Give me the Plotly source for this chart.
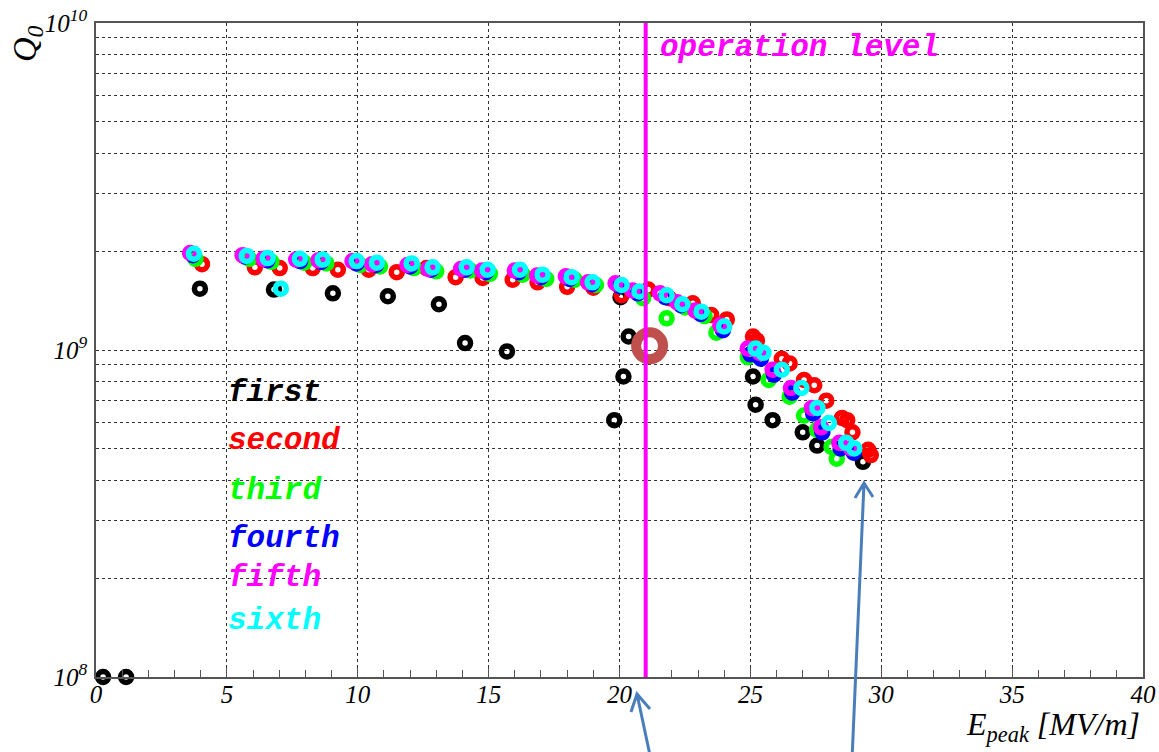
import plotly.graph_objects as go

# ---------------- data ----------------
first_x = [0.27, 1.15, 3.97, 6.8, 9.05, 11.15, 13.1, 14.1, 15.7, 19.8, 20.15, 20.35, 20.04, 25.1, 25.2, 25.85, 27.0, 27.55, 29.3]
first_q = [1.0e8, 1.0e8, 1.54e9, 1.53e9, 1.49e9, 1.46e9, 1.38e9, 1.05e9, 0.99e9, 6.1e8, 8.3e8, 1.10e9, 1.45e9, 8.3e8, 6.8e8, 6.1e8, 5.6e8, 5.1e8, 4.55e8]

second_x = [4.05, 6.07, 7.02, 8.28, 9.24, 10.42, 11.49, 12.63, 13.74, 14.77, 15.92, 16.87, 18.0, 19.0, 20.08, 21.1, 21.9, 22.8, 23.5, 24.1, 25.1, 25.25, 26.2, 26.5, 27.05, 27.44, 27.9, 28.5, 28.7, 28.9, 29.5, 29.6]
second_q = [1.83e9, 1.79e9, 1.78e9, 1.78e9, 1.76e9, 1.76e9, 1.73e9, 1.78e9, 1.67e9, 1.66e9, 1.64e9, 1.61e9, 1.56e9, 1.55e9, 1.47e9, 1.53e9, 1.44e9, 1.39e9, 1.28e9, 1.24e9, 1.10e9, 1.07e9, 9.4e8, 9.1e8, 8.1e8, 7.8e8, 7.0e8, 6.2e8, 6.1e8, 5.6e8, 4.95e8, 4.77e8]

third_x = [3.8, 5.85, 6.7, 7.95, 8.8, 10.1, 10.85, 12.15, 13.0, 14.3, 15.05, 16.3, 17.2, 18.3, 19.1, 20.9, 21.8, 22.5, 23.25, 23.7, 24.9, 25.7, 26.5, 27.05, 27.55, 28.1, 28.3]
third_q = [1.90e9, 1.90e9, 1.86e9, 1.85e9, 1.84e9, 1.82e9, 1.80e9, 1.78e9, 1.74e9, 1.75e9, 1.71e9, 1.70e9, 1.65e9, 1.64e9, 1.58e9, 1.44e9, 1.25e9, 1.35e9, 1.27e9, 1.13e9, 9.5e8, 8.1e8, 7.2e8, 6.3e8, 5.7e8, 5.05e8, 4.65e8]

fourth_x = [3.7, 5.7, 6.55, 7.8, 8.6, 9.95, 10.7, 12.0, 12.8, 14.1, 14.9, 16.15, 17.0, 18.1, 18.95, 20.0, 20.7, 21.75, 22.35, 23.1, 23.95, 25.0, 25.4, 25.9, 26.6, 27.4, 27.75, 28.45, 28.95]
fourth_q = [1.95e9, 1.93e9, 1.88e9, 1.87e9, 1.86e9, 1.84e9, 1.82e9, 1.80e9, 1.76e9, 1.76e9, 1.73e9, 1.73e9, 1.67e9, 1.65e9, 1.59e9, 1.57e9, 1.49e9, 1.45e9, 1.37e9, 1.29e9, 1.15e9, 9.7e8, 9.4e8, 8.4e8, 7.4e8, 6.4e8, 5.6e8, 5.0e8, 4.85e8]

fifth_x = [3.6, 5.6, 6.4, 7.65, 8.5, 9.8, 10.55, 11.9, 12.7, 13.95, 14.75, 16.0, 16.85, 17.95, 18.8, 19.85, 20.5, 21.55, 22.2, 22.9, 23.85, 24.9, 25.35, 25.85, 26.55, 27.35, 27.7, 28.4, 28.85]
fifth_q = [1.98e9, 1.95e9, 1.90e9, 1.89e9, 1.88e9, 1.87e9, 1.83e9, 1.82e9, 1.77e9, 1.77e9, 1.75e9, 1.75e9, 1.69e9, 1.68e9, 1.61e9, 1.60e9, 1.52e9, 1.49e9, 1.40e9, 1.32e9, 1.19e9, 1.01e9, 9.8e8, 8.7e8, 7.65e8, 6.65e8, 5.8e8, 5.2e8, 5.0e8]

sixth_x = [3.74, 5.76, 6.56, 7.06, 7.79, 8.66, 9.96, 10.73, 12.06, 12.86, 14.16, 14.96, 16.2, 17.06, 18.17, 18.97, 20.08, 20.76, 21.8, 22.4, 23.13, 24.0, 25.2, 25.5, 26.2, 26.95, 27.56, 28.0, 28.66, 28.97]
sixth_q = [1.97e9, 1.94e9, 1.91e9, 1.54e9, 1.90e9, 1.89e9, 1.87e9, 1.85e9, 1.84e9, 1.79e9, 1.79e9, 1.76e9, 1.76e9, 1.70e9, 1.67e9, 1.61e9, 1.58e9, 1.51e9, 1.47e9, 1.38e9, 1.31e9, 1.18e9, 1.01e9, 9.8e8, 8.7e8, 7.65e8, 6.65e8, 5.98e8, 5.2e8, 5.0e8]

highlight_x = [21.15]
highlight_q = [1.03e9]

operation_level = 21.0

series_names = ["first", "second", "third", "fourth", "fifth", "sixth"]
series_colors = ["#000000", "#FF0000", "#00FF00", "#0000FF", "#FF00FF", "#00FFFF"]
series_x = [first_x, second_x, third_x, fourth_x, fifth_x, sixth_x]
series_q = [first_q, second_q, third_q, fourth_q, fifth_q, sixth_q]

x_ticks = [0, 5, 10, 15, 20, 25, 30, 35, 40]
y_decades = [1e8, 1e9, 1e10]
y_decade_labels = ["10<sup>8</sup>", "10<sup>9</sup>", "10<sup>10</sup>"]

# ---------------- figure ----------------
fig = go.Figure()
for name, col, xs, qs in zip(series_names, series_colors, series_x, series_q):
    fig.add_trace(go.Scatter(
        x=xs, y=qs, mode="markers", name=name, showlegend=False,
        marker=dict(symbol="circle-open", size=11, color=col, line=dict(width=5.5, color=col)),
        cliponaxis=False,
    ))

fig.add_trace(go.Scatter(
    x=highlight_x, y=highlight_q, mode="markers", showlegend=False,
    marker=dict(symbol="circle-open", size=27, color="#C0504D", line=dict(width=10, color="#C0504D")),
))

# y grid at every log minor position
y_tickvals = []
y_ticktext = []
for d, lab in zip(y_decades, y_decade_labels):
    y_tickvals.append(d)
    y_ticktext.append(lab)
    if d < 1e10:
        for k in range(2, 10):
            y_tickvals.append(k * d)
            y_ticktext.append("")

L, R, T, B = 96, 16, 23, 75
W, H = 1159, 752
PW = W - L - R
PH = H - T - B

def px(xp):
    return (xp - L) / PW

def py(yp):
    return (H - B - yp) / PH

serif = "Liberation Serif"
mono = "Liberation Mono"

fig.update_layout(
    width=W, height=H,
    margin=dict(l=L, r=R, t=T, b=B, autoexpand=False),
    paper_bgcolor="white", plot_bgcolor="white",
    xaxis=dict(
        range=[0, 40], tickvals=x_ticks, ticktext=[str(v) for v in x_ticks],
        automargin=False,
        showgrid=True, gridcolor="#333333", gridwidth=1, griddash="3px,3px",
        ticks="inside", ticklen=9, tickcolor="#555555",
        minor=dict(dtick=1, ticks="inside", ticklen=7, tickcolor="#555555", showgrid=False),
        showline=True, linecolor="#555555", linewidth=1.5, mirror=True,
        tickfont=dict(family=serif, size=25, color="black", style="italic"),
        ticklabelstandoff=-6,
        zeroline=False,
    ),
    yaxis=dict(
        type="log", range=[8, 10], tickvals=y_tickvals, ticktext=y_ticktext,
        automargin=False,
        showgrid=True, gridcolor="#333333", gridwidth=1, griddash="3px,3px",
        ticks="", showline=True, linecolor="#555555", linewidth=1.5, mirror=True,
        tickfont=dict(family=serif, size=25, color="black", style="italic"),
        ticklabelstandoff=2,
        zeroline=False,
    ),
)

# operation level line
fig.add_shape(type="line", x0=operation_level, x1=operation_level, xref="x", yref="paper",
              y0=0, y1=1, line=dict(color="#FF00FF", width=4), layer="above")

fig.add_annotation(x=operation_level, xref="x", xshift=12, y=py(47), yref="paper",
                   text="operation level", showarrow=False, xanchor="left", yanchor="middle",
                   font=dict(family=mono, size=31, color="#FF00FF", weight="bold", style="italic"))

# legend-like labels
label_y = [392, 440, 490, 538, 577, 620]
for name, col, yy in zip(series_names, series_colors, label_y):
    fig.add_annotation(x=px(226), y=py(yy), xref="paper", yref="paper", text=name,
                       showarrow=False, xanchor="left", yanchor="middle",
                       font=dict(family=mono, size=31, color=col, weight="bold", style="italic"))

# axis titles
fig.add_annotation(x=px(27), y=py(44), xref="paper", yref="paper", text="Q<sub>0</sub>",
                   showarrow=False, textangle=-90, xanchor="center", yanchor="middle",
                   font=dict(family=serif, size=34, color="black", style="italic"))
fig.add_annotation(x=px(1142), y=py(726), xref="paper", yref="paper",
                   text="E<sub>peak</sub> [MV/m]", showarrow=False, xanchor="right", yanchor="middle",
                   font=dict(family=serif, size=32, color="black", style="italic"))

# blue arrows
arrow_col = "#4A7EBB"
def arrow(tip, tail, w1, w2):
    path = "M {} {} L {} {} M {} {} L {} {} L {} {}".format(
        px(tail[0]), py(tail[1]), px(tip[0]), py(tip[1]),
        px(w1[0]), py(w1[1]), px(tip[0]), py(tip[1]), px(w2[0]), py(w2[1]))
    fig.add_shape(type="path", path=path, xref="paper", yref="paper",
                  line=dict(color=arrow_col, width=3), layer="above")

arrow((637, 694), (651, 760), (631, 712), (650, 709))
arrow((864, 483), (852, 760), (855, 498), (873, 497))

fig.write_html("out.html", config={"displayModeBar": False},
               post_script="document.body.style.margin='0px';document.body.style.overflow='hidden';")
